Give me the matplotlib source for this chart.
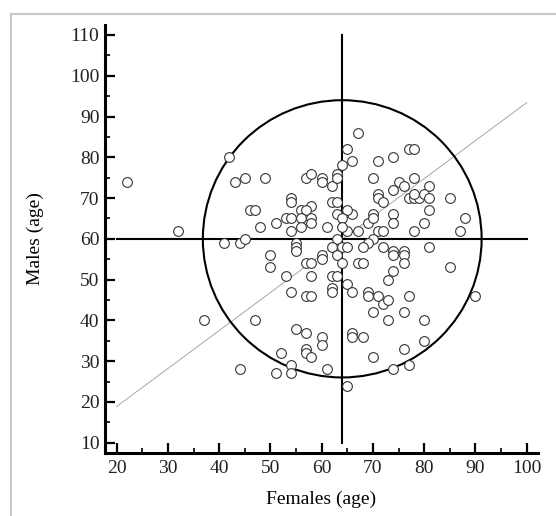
import numpy as np
import matplotlib
matplotlib.use("Agg")
import matplotlib.pyplot as plt
from matplotlib.patches import Ellipse
from matplotlib.lines import Line2D
from matplotlib.ticker import MultipleLocator

plt.rcParams['font.family'] = ['Liberation Serif', 'DejaVu Serif']

# ages of paired females (x) and males (y)
females = [22, 32, 37, 42, 43, 45, 49, 46, 47, 48, 51, 41, 44, 45, 50, 50, 47, 44, 51, 52,
           57, 58, 60, 60, 62, 63, 63, 64, 54, 54, 58, 62, 63, 65, 67, 66, 71, 74, 77, 78,
           70, 78, 75, 76, 74, 81, 71, 71, 72, 77, 78, 79, 78, 80, 81, 85, 81, 74, 74, 70,
           69, 70, 80, 78, 88, 87, 71, 72, 67, 65, 66, 65, 63, 64, 64, 56, 57, 56, 58, 58,
           56, 54, 53, 54, 61,
           63, 70, 69, 68, 72, 74, 74, 76, 76, 81, 62, 64, 65, 63, 60, 60, 55, 55, 55, 64,
           67, 68, 76, 74, 73, 85, 57, 58, 53, 58, 62, 63,
           65, 66, 69, 69, 71, 72, 73, 77, 90, 62, 62, 54, 57, 58, 70, 73, 76, 80, 80, 66,
           66, 68, 70, 76, 74, 77, 65, 55, 57, 60, 60, 57, 57, 58, 54, 54, 61]
males = [74, 62, 40, 80, 74, 75, 75, 67, 67, 63, 64, 59, 59, 60, 56, 53, 40, 28, 27, 32,
         75, 76, 75, 74, 73, 76, 75, 78, 70, 69, 68, 69, 69, 82, 86, 79, 79, 80, 82, 82,
         75, 75, 74, 73, 72, 73, 71, 70, 69, 70, 70, 70, 71, 71, 70, 70, 67, 66, 64, 66,
         64, 65, 64, 62, 65, 62, 62, 62, 62, 62, 66, 67, 66, 65, 63, 67, 67, 65, 65, 64,
         63, 62, 65, 65, 63,
         60, 60, 59, 58, 58, 57, 56, 57, 56, 58, 58, 58, 58, 56, 56, 55, 59, 58, 57, 54,
         54, 54, 54, 52, 50, 53, 54, 54, 51, 51, 51, 51,
         49, 47, 47, 46, 46, 44, 45, 46, 46, 48, 47, 47, 46, 46, 42, 40, 42, 40, 35, 37,
         36, 36, 31, 33, 28, 29, 24, 38, 37, 36, 34, 33, 32, 31, 29, 27, 28]

mean_f, mean_m = 64, 60
ellipse_w, ellipse_h = 54.4, 68.0
fit_x = [20, 100]
fit_y = [18.9, 93.4]

fig = plt.figure(figsize=(5.56, 5.16), dpi=100)
ax = fig.add_axes([0.1888, 0.1221, 0.7788, 0.8295])

# frame lines of the original screenshot
fig.add_artist(Line2D([11/556, 1], [1 - 14/516, 1 - 14/516], color='#c8c8c8', lw=1.5))
fig.add_artist(Line2D([11/556, 11/556], [0, 1 - 14/516], color='#c8c8c8', lw=1.5))

ax.plot(fit_x, fit_y, color='#999999', lw=0.6, zorder=1)
ax.add_patch(Ellipse((mean_f, mean_m), ellipse_w, ellipse_h, fill=False,
                     edgecolor='black', lw=1.5, zorder=2))
ax.plot([mean_f, mean_f], [10, 110], color='black', lw=1.5, zorder=2)
ax.plot([20, 100], [mean_m, mean_m], color='black', lw=1.5, zorder=2)

ax.plot(females, males, 'o', ms=7, mfc='white', mec='#333333', mew=0.8, zorder=3)

ax.set_xlim(17.7, 102.2)
ax.set_ylim(7.47, 112.45)
ax.spines['top'].set_visible(False)
ax.spines['right'].set_visible(False)
for s in ['left', 'bottom']:
    ax.spines[s].set_linewidth(2.2)

ax.set_xticks(np.arange(20, 101, 10))
ax.set_yticks(np.arange(10, 111, 10))
ax.xaxis.set_minor_locator(MultipleLocator(5))
ax.yaxis.set_minor_locator(MultipleLocator(5))
ax.tick_params(which='major', direction='in', length=7.5, width=1.6, labelsize=14,
               labelcolor='#222222')
ax.tick_params(which='minor', direction='in', length=3.5, width=1.2)
ax.tick_params(axis='x', which='major', pad=5)
ax.tick_params(axis='y', which='major', pad=4)

ax.set_xlabel('Females (age)', fontsize=14, labelpad=10)
ax.set_ylabel('Males (age)', fontsize=14, labelpad=19)

plt.savefig('out.png', dpi=100)
plt.close()
